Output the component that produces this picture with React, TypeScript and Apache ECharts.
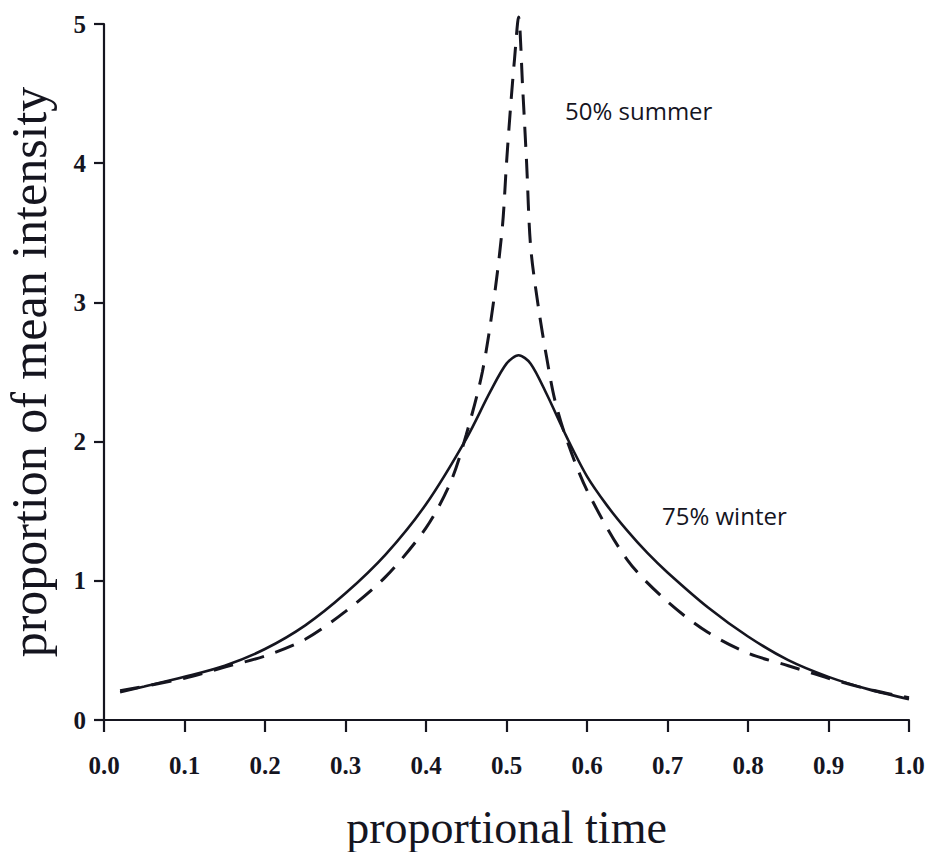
import React, { useEffect, useRef } from "react";
import * as echarts from "echarts";

// 75% winter (solid)
const winterX = [0.02, 0.05, 0.1, 0.15, 0.2, 0.25, 0.3, 0.35, 0.4, 0.45, 0.48, 0.5, 0.515, 0.53, 0.55, 0.575, 0.6, 0.625, 0.65, 0.675, 0.7, 0.75, 0.8, 0.85, 0.9, 0.95, 1.0];
const winterY = [0.2, 0.24, 0.31, 0.39, 0.51, 0.68, 0.91, 1.19, 1.55, 2.02, 2.36, 2.56, 2.62, 2.56, 2.34, 2.03, 1.75, 1.54, 1.36, 1.2, 1.06, 0.81, 0.6, 0.43, 0.31, 0.22, 0.15];

// 50% summer (dashed)
const summerX = [0.02, 0.1, 0.15, 0.2, 0.25, 0.3, 0.35, 0.4, 0.43, 0.45, 0.47, 0.485, 0.495, 0.5, 0.505, 0.51, 0.515, 0.52, 0.525, 0.53, 0.54, 0.55, 0.56, 0.575, 0.6, 0.65, 0.7, 0.75, 0.8, 0.85, 0.9, 0.95, 1.0];
const summerY = [0.21, 0.3, 0.38, 0.46, 0.58, 0.78, 1.03, 1.38, 1.7, 2.05, 2.5, 3.05, 3.55, 4.0, 4.4, 4.75, 5.05, 4.55, 4.0, 3.4, 2.95, 2.6, 2.3, 2.01, 1.65, 1.15, 0.85, 0.63, 0.48, 0.39, 0.3, 0.22, 0.16];

const xTicks = { min: 0, max: 1, interval: 0.1 };
const yTicks = { min: 0, max: 5, interval: 1 };

const xTitle = "proportional time";
const yTitle = "proportion of mean intensity";
const summerLabel = "50% summer";
const winterLabel = "75% winter";

const INK = "#15151f";
const SERIF = "'Liberation Serif', 'DejaVu Serif', serif";
const SANS = "'Open Sans', 'Noto Sans', sans-serif";

export default function App() {
  const ref = useRef<HTMLDivElement>(null);

  useEffect(() => {
    if (!ref.current) return;
    const chart = echarts.init(ref.current, undefined, { renderer: "svg" });
    const winter = winterX.map((x, i) => [x, winterY[i]]);
    const summer = summerX.map((x, i) => [x, summerY[i]]);

    chart.setOption({
      animation: false,
      backgroundColor: "#ffffff",
      grid: { left: 104, right: 21, top: 24, bottom: 132, containLabel: false, outerBoundsMode: "none" },
      xAxis: {
        type: "value",
        min: xTicks.min,
        max: xTicks.max,
        interval: xTicks.interval,
        name: xTitle,
        nameLocation: "middle",
        nameGap: 84,
        nameTextStyle: { fontFamily: SERIF, fontSize: 46, lineHeight: 46, color: INK },
        axisLine: { onZero: false, lineStyle: { color: INK, width: 2.2 } },
        axisTick: { show: true, inside: false, length: 12, lineStyle: { color: INK, width: 2.2 } },
        axisLabel: {
          margin: 33,
          fontFamily: SERIF,
          fontSize: 25,
          fontWeight: "bold",
          color: INK,
          formatter: (v: number) => v.toFixed(1),
        },
        splitLine: { show: false },
      },
      yAxis: {
        type: "value",
        min: yTicks.min,
        max: yTicks.max,
        interval: yTicks.interval,
        name: yTitle,
        nameLocation: "middle",
        nameGap: 50,
        nameTextStyle: { fontFamily: SERIF, fontSize: 50, lineHeight: 50, color: INK },
        axisLine: { show: true, lineStyle: { color: INK, width: 2.2 } },
        axisTick: { show: true, inside: false, length: 10, lineStyle: { color: INK, width: 2.2 } },
        axisLabel: { margin: 18, fontFamily: SERIF, fontSize: 25, fontWeight: "bold", color: INK },
        splitLine: { show: false },
      },
      series: [
        {
          name: winterLabel,
          type: "line",
          data: winter,
          showSymbol: false,
          smooth: 0.3,
          clip: false,
          lineStyle: { color: INK, width: 2.6, type: "solid" },
        },
        {
          name: summerLabel,
          type: "line",
          data: summer,
          showSymbol: false,
          smooth: 0.3,
          clip: false,
          lineStyle: { color: INK, width: 3, type: [20, 12] },
        },
      ],
      graphic: [
        {
          type: "text",
          x: 565,
          y: 110,
          style: { text: summerLabel, font: `24px ${SANS}`, fill: INK, verticalAlign: "middle", align: "left" },
        },
        {
          type: "text",
          x: 662,
          y: 515,
          style: { text: winterLabel, font: `24px ${SANS}`, fill: INK, verticalAlign: "middle", align: "left" },
        },
      ],
    });
    return () => chart.dispose();
  }, []);

  return (
    <div
      ref={ref}
      style={{ position: "fixed", left: 0, top: 0, width: 930, height: 852, background: "#fff" }}
    />
  );
}
